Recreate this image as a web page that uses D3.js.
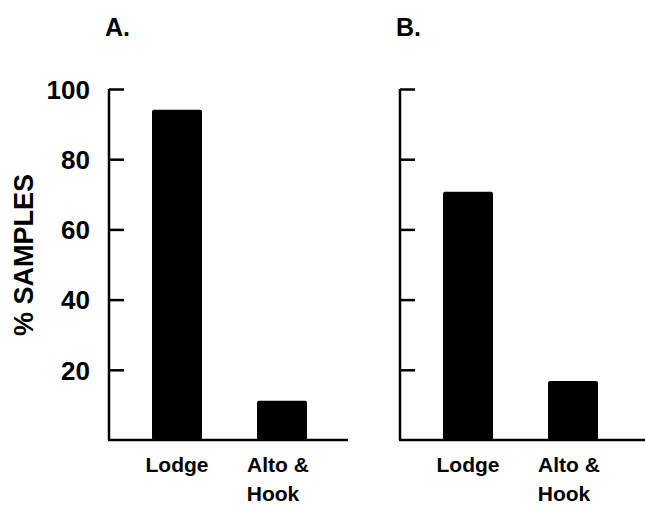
<!DOCTYPE html>
<html lang="en">
<head>
  <meta charset="UTF-8">
  <title>% Samples</title>
  <style>
    body { margin: 0; background: white; }
    text { font-family: 'Liberation Sans', Arial, sans-serif; fill: black; }
  </style>
</head>
<body>
  <svg id="svg" width="645" height="507"></svg>
  <script src="https://d3js.org/d3.v7.min.js"></script>
  <script>
    const categories = ['Lodge', 'Alto & Hook']
    const panelA = [94.1, 11.2]
    const panelB = [70.7, 16.8]
    const panelTitles = ['A.', 'B.']
    const yTicks = [20, 40, 60, 80, 100]

    const svg = d3.select('#svg')
    const yScale = d3.scaleLinear().domain([0, 100]).range([440, 89])

    function drawPanel(values, title, left, right, showLabels) {
      const g = svg.append('g')
      const xScale = d3.scalePoint()
        .domain(categories)
        .range([left + 68, left + 173])
      const barW = 50

      g.selectAll('rect')
        .data(values)
        .enter()
        .append('rect')
        .attr('x', (d, i) => xScale(categories[i]) - barW / 2)
        .attr('y', d => yScale(d))
        .attr('width', barW)
        .attr('height', d => yScale(0) - yScale(d))
        .attr('rx', 2)
        .attr('fill', 'black')

      const axis = d3.axisLeft(yScale)
        .tickValues(yTicks)
        .tickSizeInner(-15)
        .tickSizeOuter(0)
        .tickPadding(19)
        .tickFormat(d => showLabels ? d : '')
      const ax = g.append('g')
        .attr('transform', `translate(${left}, 0)`)
        .call(axis)
      ax.select('.domain').attr('stroke-width', 2.5).attr('d', `M0,${yScale(0)}V${yScale(100)}`)
      ax.selectAll('.tick line').attr('stroke-width', 2.5)
      ax.selectAll('.tick text')
        .style('font-size', '26px')
        .style('font-family', 'Liberation Sans')
        .style('font-weight', 'bold')
        .attr('fill', 'black')
        .attr('dy', '0.36em')

      g.append('line')
        .attr('x1', left - 1)
        .attr('x2', right)
        .attr('y1', yScale(0))
        .attr('y2', yScale(0))
        .attr('stroke', 'black')
        .attr('stroke-width', 2.5)

      const lbl = g.selectAll('.xlabel')
        .data(categories)
        .enter()
        .append('text')
        .attr('class', 'xlabel')
        .attr('text-anchor', 'middle')
        .style('font-size', '21px')
        .style('font-weight', 'bold')
      lbl.each(function (d) {
        const parts = d === 'Alto & Hook' ? ['Alto &', 'Hook'] : [d]
        const t = d3.select(this)
        parts.forEach((p, i) => {
          t.append('tspan')
            .attr('x', xScale(d) + (i === 0 && parts.length > 1 ? -4 : (parts.length > 1 ? -9 : 0)))
            .attr('y', 472 + i * 29)
            .text(p)
        })
      })

      g.append('text')
        .attr('x', left - 4)
        .attr('y', 36)
        .style('font-size', '25px')
        .style('font-weight', 'bold')
        .text(title)
    }

    drawPanel(panelA, panelTitles[0], 109, 348, true)
    drawPanel(panelB, panelTitles[1], 400, 645, false)

    svg.append('text')
      .attr('transform', 'translate(33, 255) rotate(-90)')
      .attr('text-anchor', 'middle')
      .style('font-size', '27px')
      .style('font-weight', 'bold')
      .text('% SAMPLES')
  </script>
</body>
</html>
